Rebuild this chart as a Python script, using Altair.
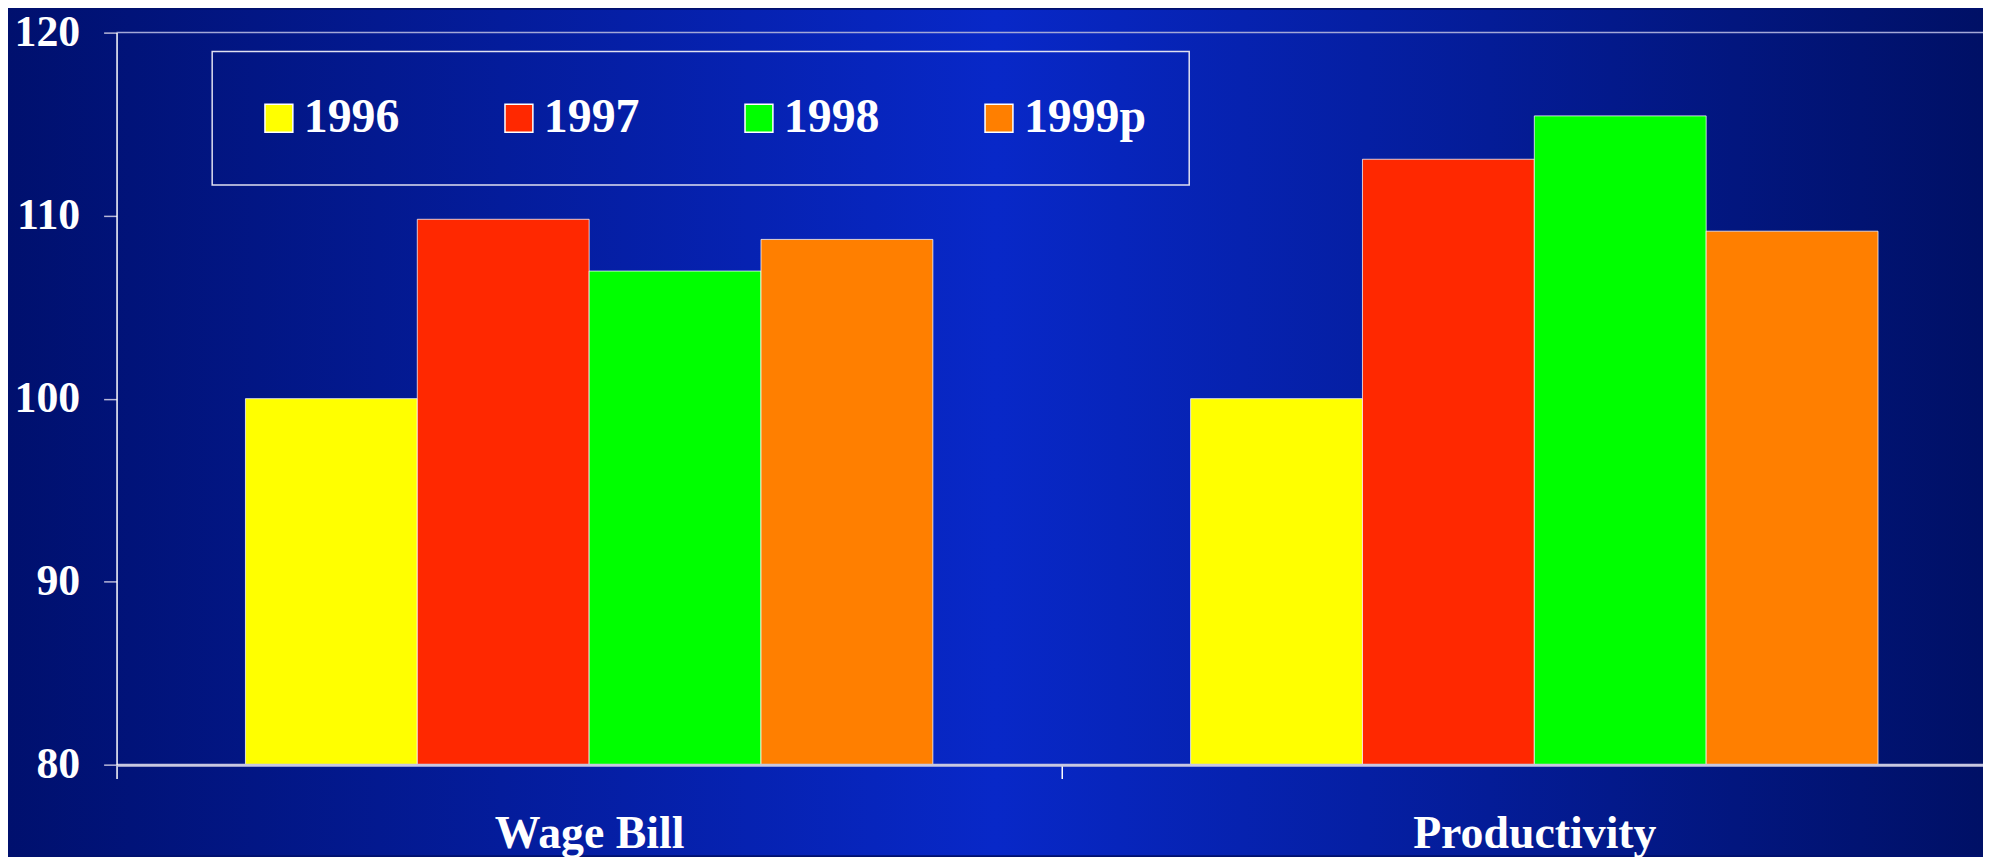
import altair as alt
import pandas as pd

categories = ["Wage Bill", "Productivity"]
years = ["1996", "1997", "1998", "1999p"]
wage_bill = [100.0, 109.8, 106.97, 108.7]
productivity = [100.0, 113.08, 115.45, 109.15]
year_colors = ["#ffff00", "#ff2800", "#00ff00", "#ff7f00"]
y_ticks = [80, 90, 100, 110, 120]
y_base = 80

rows = []
for cat, vals in zip(categories, [wage_bill, productivity]):
    for yr, v in zip(years, vals):
        rows.append({"category": cat, "year": yr, "value": v})
df = pd.DataFrame(rows)

W, H = 1874, 735
PAD = {"left": 109, "top": 23, "right": 0, "bottom": 91}
FONT = "Liberation Serif"

bg = alt.Chart(pd.DataFrame({"k": [0]})).mark_rect(
    color=alt.LinearGradient(
        gradient="linear",
        x1=0, x2=1, y1=0, y2=0,
        stops=[
            alt.GradientStop(offset=0, color="#00106e"),
            alt.GradientStop(offset=0.5, color="#0828c8"),
            alt.GradientStop(offset=1, color="#001066"),
        ],
    ),
    strokeWidth=0,
).encode(
    x=alt.value(-PAD["left"]),
    x2=alt.value(W),
    y=alt.value(-PAD["top"]),
    y2=alt.value(H + PAD["bottom"]),
)

bars = alt.Chart(df).mark_bar(
    stroke="white", strokeOpacity=0.75, strokeWidth=1
).encode(
    x=alt.X(
        "category:N",
        sort=categories,
        scale=alt.Scale(range=[0, 1898], paddingInner=0, paddingOuter=0),
        axis=alt.Axis(
            title=None,
            labelAngle=0,
            labelFont=FONT,
            labelFontSize=46,
            labelFontWeight="bold",
            labelColor="white",
            labelPadding=33,
            labelBaseline="top",
            labelLimit=600,
            domainColor="#c8c8e0",
            domainWidth=3,
            tickBand="extent",
            tickSize=14,
            tickColor="white",
            tickWidth=1.5,
            grid=False,
            zindex=1,
        ),
    ),
    xOffset=alt.XOffset(
        "year:N", sort=years, scale=alt.Scale(paddingInner=0, paddingOuter=0.75)
    ),
    y=alt.Y(
        "value:Q",
        scale=alt.Scale(domain=[80, 120], nice=False, zero=False),
        axis=alt.Axis(
            title=None,
            values=y_ticks,
            labelFont=FONT,
            labelFontSize=44,
            labelFontWeight="bold",
            labelColor="white",
            labelPadding=24,
            domainColor="white",
            domainWidth=1.5,
            tickSize=13,
            tickColor="#b8b8d8",
            tickWidth=1.5,
            grid=False,
            zindex=1,
        ),
    ),
    y2=alt.datum(y_base),
    color=alt.Color(
        "year:N",
        sort=years,
        scale=alt.Scale(domain=years, range=year_colors),
        legend=alt.Legend(
            title=None,
            orient="none",
            legendX=96,
            legendY=19,
            direction="horizontal",
            columns=4,
            gridAlign="each",
            columnPadding=96,
            padding=43,
            strokeColor="#e0e0f0",
            symbolType="square",
            symbolSize=784,
            symbolStrokeColor="white",
            symbolStrokeWidth=1.5,
            symbolOpacity=1,
            labelOffset=1,
            labelFont=FONT,
            labelFontSize=48,
            labelFontWeight="bold",
            labelColor="white",
            labelLimit=400,
        ),
    ),
)

top_line = alt.Chart(pd.DataFrame({"k": [0]})).mark_rule(
    color="#a4a8d8", strokeWidth=1.5
).encode(y=alt.datum(120))

chart = alt.layer(bg, bars, top_line).properties(
    width=W,
    height=H,
    autosize=alt.AutoSizeParams(type="none"),
    padding=PAD,
    background="#00106e",
).configure_view(stroke=None).configure_legend(strokeWidth=1.5)

chart.save("out.html", embed_options={"renderer": "svg", "actions": False})
